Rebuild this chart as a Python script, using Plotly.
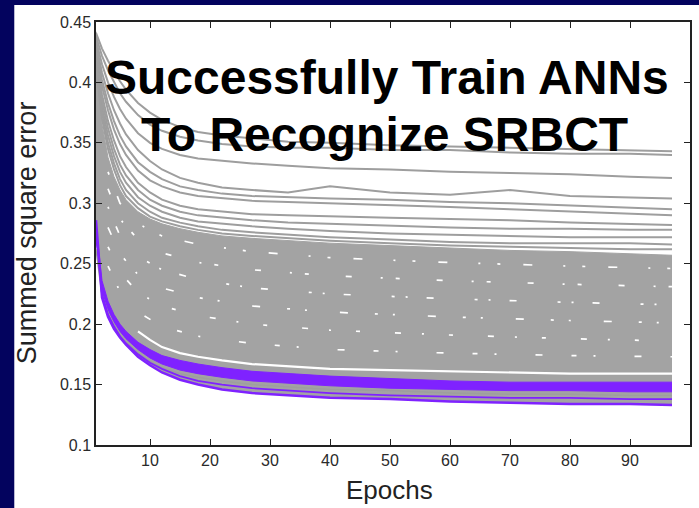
import plotly.graph_objects as go

# ---------------- data ----------------
epochs = [1, 2, 3, 4, 5, 6, 8, 10, 12, 15, 18, 22, 27, 33, 40, 50, 60, 70, 80, 90, 97]

# individual gray curves above the dense band
curve_a = [0.441, 0.428, 0.418, 0.409, 0.401, 0.394, 0.383, 0.375, 0.369, 0.363, 0.359, 0.356, 0.354, 0.351, 0.350, 0.348, 0.347, 0.346, 0.345, 0.344, 0.343]
curve_b = [0.438, 0.422, 0.410, 0.400, 0.391, 0.384, 0.373, 0.365, 0.360, 0.355, 0.352, 0.349, 0.347, 0.346, 0.346, 0.344, 0.344, 0.342, 0.341, 0.341, 0.340]
curve_c = [0.435, 0.415, 0.400, 0.388, 0.378, 0.370, 0.358, 0.350, 0.345, 0.340, 0.337, 0.335, 0.333, 0.331, 0.329, 0.328, 0.326, 0.325, 0.324, 0.322, 0.321]
curve_d = [0.432, 0.408, 0.391, 0.377, 0.366, 0.357, 0.344, 0.335, 0.328, 0.321, 0.317, 0.313, 0.311, 0.309, 0.314, 0.309, 0.307, 0.311, 0.306, 0.305, 0.304]
curve_e = [0.429, 0.402, 0.383, 0.368, 0.356, 0.347, 0.334, 0.326, 0.320, 0.314, 0.311, 0.308, 0.306, 0.305, 0.304, 0.303, 0.301, 0.300, 0.298, 0.296, 0.295]
curve_f = [0.426, 0.397, 0.377, 0.361, 0.349, 0.340, 0.327, 0.319, 0.314, 0.309, 0.306, 0.304, 0.302, 0.301, 0.300, 0.298, 0.297, 0.295, 0.293, 0.291, 0.290]
curve_g = [0.423, 0.390, 0.368, 0.352, 0.339, 0.330, 0.317, 0.309, 0.303, 0.298, 0.295, 0.293, 0.291, 0.290, 0.289, 0.288, 0.287, 0.286, 0.284, 0.283, 0.282]
curve_h = [0.420, 0.385, 0.362, 0.345, 0.332, 0.323, 0.311, 0.303, 0.298, 0.293, 0.290, 0.288, 0.286, 0.284, 0.283, 0.281, 0.280, 0.279, 0.279, 0.278, 0.278]
curve_i = [0.417, 0.380, 0.356, 0.339, 0.326, 0.317, 0.305, 0.298, 0.293, 0.288, 0.285, 0.283, 0.281, 0.279, 0.277, 0.275, 0.274, 0.273, 0.272, 0.272, 0.272]
curve_j = [0.414, 0.375, 0.350, 0.333, 0.320, 0.311, 0.300, 0.293, 0.288, 0.284, 0.281, 0.278, 0.276, 0.274, 0.272, 0.270, 0.268, 0.267, 0.267, 0.267, 0.266]
curve_k = [0.411, 0.370, 0.345, 0.328, 0.315, 0.306, 0.296, 0.289, 0.285, 0.281, 0.278, 0.275, 0.273, 0.271, 0.269, 0.267, 0.265, 0.264, 0.263, 0.262, 0.262]
upper_curves = [curve_a, curve_b, curve_c, curve_d, curve_e, curve_f,
                curve_g, curve_h, curve_i, curve_j, curve_k]

# envelope of the dense gray band
band_top = [0.442, 0.365, 0.338, 0.322, 0.311, 0.303, 0.293, 0.287, 0.283, 0.279, 0.276, 0.273, 0.271, 0.269, 0.267, 0.265, 0.263, 0.261, 0.260, 0.258, 0.257]
lowest = [0.286, 0.222, 0.206, 0.196, 0.189, 0.183, 0.173, 0.166, 0.160, 0.154, 0.150, 0.146, 0.143, 0.141, 0.139, 0.138, 0.136, 0.135, 0.134, 0.134, 0.133]

# thick purple band and extra purple curve
purple_top = [0.282, 0.236, 0.219, 0.208, 0.200, 0.194, 0.185, 0.179, 0.174, 0.170, 0.167, 0.164, 0.161, 0.159, 0.157, 0.155, 0.153, 0.152, 0.152, 0.152, 0.152]
purple_bot = [0.270, 0.228, 0.212, 0.202, 0.194, 0.188, 0.179, 0.172, 0.167, 0.162, 0.159, 0.156, 0.153, 0.151, 0.149, 0.147, 0.146, 0.145, 0.145, 0.144, 0.144]
purple_mid = [0.278, 0.225, 0.208, 0.198, 0.190, 0.184, 0.175, 0.168, 0.163, 0.157, 0.153, 0.150, 0.147, 0.145, 0.143, 0.141, 0.140, 0.139, 0.139, 0.138, 0.138]
gray_low = [0.262, 0.224, 0.209, 0.199, 0.191, 0.185, 0.176, 0.169, 0.164, 0.159, 0.156, 0.153, 0.150, 0.148, 0.146, 0.145, 0.143, 0.142, 0.142, 0.141, 0.141]

# clear (white) gap line just above the purple band
gap_epochs = [8, 10, 12, 15, 18, 22, 27, 33, 40, 50, 60, 70, 80, 90, 97]
gap_line = [0.194, 0.187, 0.181, 0.176, 0.173, 0.170, 0.167, 0.165, 0.163, 0.162, 0.161, 0.160, 0.159, 0.159, 0.159]

# white speckle streaks inside the dense band
speck_epochs = [3, 5, 8, 12, 18, 27, 40, 60, 80, 97]
speck_1 = [0.326, 0.300, 0.283, 0.273, 0.266, 0.260, 0.255, 0.251, 0.248, 0.246]
speck_2 = [0.312, 0.287, 0.270, 0.259, 0.251, 0.245, 0.240, 0.236, 0.233, 0.231]
speck_3 = [0.297, 0.273, 0.256, 0.245, 0.237, 0.230, 0.225, 0.221, 0.218, 0.216]
speck_4 = [0.280, 0.258, 0.241, 0.230, 0.222, 0.215, 0.210, 0.206, 0.203, 0.201]
speck_5 = [0.264, 0.243, 0.226, 0.215, 0.207, 0.200, 0.195, 0.191, 0.188, 0.186]
speck_6 = [0.248, 0.227, 0.210, 0.198, 0.190, 0.184, 0.179, 0.176, 0.174, 0.173]
speckles = [speck_1, speck_2, speck_3, speck_4, speck_5, speck_6]
speck_dashes = ["3px,23px,9px,31px,2px,17px",
                "6px,29px,2px,13px,4px,37px",
                "2px,19px,7px,41px,3px,11px",
                "8px,27px,3px,15px,2px,33px",
                "4px,35px,6px,21px,2px,25px",
                "5px,17px,2px,39px,7px,29px"]

x_ticks = [10, 20, 30, 40, 50, 60, 70, 80, 90]
y_ticks = [0.1, 0.15, 0.2, 0.25, 0.3, 0.35, 0.4, 0.45]
y_tick_labels = ["0.1", "0.15", "0.2", "0.25", "0.3", "0.35", "0.4", "0.45"]

title_line_1 = "Successfully Train ANNs"
title_line_2 = "To Recognize SRBCT"

# ---------------- styling ----------------
GRAY_FILL = "#A3A3A3"
GRAY_LINE = "#9E9E9E"
PURPLE = "#7F22FF"
NAVY = "#03035E"
FONT = "Liberation Sans, Arial, sans-serif"

fig = go.Figure()

def line(x, y, color, width, dash=None, fill=None, fillcolor=None):
    fig.add_trace(go.Scatter(
        x=x, y=y, mode="lines",
        line=dict(color=color, width=width, dash=dash),
        fill=fill, fillcolor=fillcolor,
        hoverinfo="skip", showlegend=False))

# dense gray band
line(epochs, lowest, "rgba(0,0,0,0)", 0)
line(epochs, band_top, GRAY_FILL, 1, fill="tonexty", fillcolor=GRAY_FILL)

# gray curves above the band
for c in upper_curves:
    line(epochs, c, GRAY_LINE, 2)

# speckle texture
for s, d in zip(speckles, speck_dashes):
    line(speck_epochs, s, "white", 1.7, dash=d)

# white gap line
line(gap_epochs, gap_line, "white", 2.2)

# purple band
line(epochs, purple_bot, PURPLE, 1)
line(epochs, purple_top, PURPLE, 1, fill="tonexty", fillcolor=PURPLE)
line(epochs, gray_low, GRAY_LINE, 1.5)
line(epochs, purple_mid, PURPLE, 1.8)
line(epochs, lowest, PURPLE, 2.5)

# ---------------- layout ----------------
L, R, T, B = 96, 7, 22, 63
W, H = 699, 508
pw, ph = W - L - R, H - T - B

def px(xp):
    return (xp - L) / pw

def py(yp):
    return (H - B - yp) / ph

axis_common = dict(
    showline=True, linecolor="#222", linewidth=1.5, mirror="ticks",
    ticks="inside", ticklen=6, tickwidth=1.3, tickcolor="#222",
    showgrid=False, zeroline=False,
    tickfont=dict(family=FONT, size=16, color="#2a2a2a"),
)

fig.update_layout(
    width=W, height=H,
    margin=dict(l=L, r=R, t=T, b=B),
    paper_bgcolor="white", plot_bgcolor="white",
    xaxis=dict(range=[1, 100], tickvals=x_ticks, **axis_common),
    yaxis=dict(range=[0.1, 0.45], tickvals=y_ticks, ticktext=y_tick_labels, **axis_common),
    shapes=[
        dict(type="rect", xref="paper", yref="paper", x0=px(-20), x1=px(14), y0=py(H + 20), y1=py(-20),
             fillcolor=NAVY, line=dict(width=0), layer="above"),
        dict(type="rect", xref="paper", yref="paper", x0=px(-20), x1=px(W + 20), y0=py(5), y1=py(-20),
             fillcolor=NAVY, line=dict(width=0), layer="above"),
    ],
    annotations=[
        dict(text=title_line_1, xref="paper", yref="paper", x=px(388), y=py(78),
             xanchor="center", yanchor="middle", showarrow=False,
             font=dict(family=FONT, size=48, color="black", weight="bold")),
        dict(text=title_line_2, xref="paper", yref="paper", x=px(385), y=py(134),
             xanchor="center", yanchor="middle", showarrow=False,
             font=dict(family=FONT, size=48, color="black", weight="bold")),
        dict(text="Epochs", xref="paper", yref="paper", x=px(390), y=py(490),
             xanchor="center", yanchor="middle", showarrow=False,
             font=dict(family=FONT, size=26, color="#222")),
        dict(text="Summed square error", xref="paper", yref="paper", x=px(27), y=py(233),
             xanchor="center", yanchor="middle", showarrow=False, textangle=-90,
             font=dict(family=FONT, size=27, color="#222")),
    ],
)

fig.write_html("out.html")
